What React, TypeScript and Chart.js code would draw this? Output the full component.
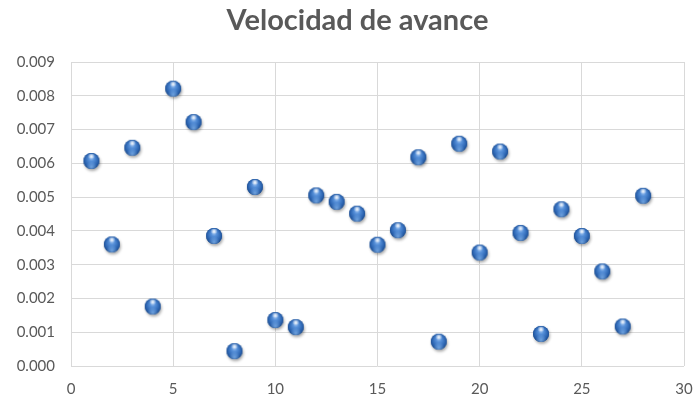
import React, { useEffect, useRef } from "react";
import { Chart, registerables } from "chart.js";

Chart.register(...registerables);

// Measurement index (x) and advance speed (y)
const samples: number[] = [
  1, 2, 3, 4, 5, 6, 7, 8, 9, 10, 11, 12, 13, 14, 15, 16, 17, 18, 19, 20, 21, 22, 23, 24, 25, 26, 27, 28,
];
const speeds: number[] = [
  0.00607, 0.0036, 0.00646, 0.00176, 0.00821, 0.00722, 0.00385, 0.00044, 0.0053, 0.00136,
  0.00115, 0.00505, 0.00486, 0.00451, 0.00359, 0.00402, 0.00618, 0.00072, 0.00658, 0.00336,
  0.00635, 0.00394, 0.00095, 0.00464, 0.00385, 0.0028, 0.00117, 0.00504,
];
const chartTitle = "Velocidad de avance";

const TEXT = "#595959";
const GRID = "#d9d9d9";
const FONT = "Lato, 'Open Sans', sans-serif";

// Glossy blue sphere used as the marker
function makeSphere(): HTMLCanvasElement {
  const size = 26;
  const c = document.createElement("canvas");
  c.width = size;
  c.height = size;
  const ctx = c.getContext("2d")!;
  const cx = size / 2;
  const cy = size / 2;
  const r = 8;

  // soft drop shadow
  ctx.save();
  ctx.shadowColor = "rgba(0,0,0,0.35)";
  ctx.shadowBlur = 3;
  ctx.shadowOffsetX = 1;
  ctx.shadowOffsetY = 2;
  ctx.fillStyle = "#2a5fa6";
  ctx.beginPath();
  ctx.arc(cx, cy, r, 0, Math.PI * 2);
  ctx.fill();
  ctx.restore();

  // body
  const body = ctx.createRadialGradient(cx, cy - r * 0.45, 0, cx, cy, r * 1.15);
  body.addColorStop(0, "#a9c9f2");
  body.addColorStop(0.3, "#5690d9");
  body.addColorStop(0.7, "#2c65b2");
  body.addColorStop(1, "#163f7a");
  ctx.fillStyle = body;
  ctx.beginPath();
  ctx.arc(cx, cy, r, 0, Math.PI * 2);
  ctx.fill();

  // reflected light at the bottom
  const glow = ctx.createRadialGradient(cx, cy + r * 0.75, 0, cx, cy + r * 0.75, r * 0.7);
  glow.addColorStop(0, "rgba(140,190,245,0.7)");
  glow.addColorStop(1, "rgba(140,190,245,0)");
  ctx.fillStyle = glow;
  ctx.beginPath();
  ctx.arc(cx, cy, r, 0, Math.PI * 2);
  ctx.fill();

  // specular highlight
  const spec = ctx.createRadialGradient(cx, cy - r * 0.6, 0, cx, cy - r * 0.6, r * 0.45);
  spec.addColorStop(0, "rgba(255,255,255,0.95)");
  spec.addColorStop(1, "rgba(255,255,255,0)");
  ctx.fillStyle = spec;
  ctx.beginPath();
  ctx.ellipse(cx, cy - r * 0.6, r * 0.5, r * 0.3, 0, 0, Math.PI * 2);
  ctx.fill();

  return c;
}

// Title drawn slightly left of the plot centre, above the plot area
const titlePlugin = {
  id: "offsetTitle",
  afterDraw(chart: any) {
    const { ctx, chartArea } = chart;
    ctx.save();
    ctx.fillStyle = TEXT;
    ctx.font = `bold 29px ${FONT}`;
    ctx.textAlign = "center";
    ctx.textBaseline = "alphabetic";
    ctx.fillText(chartTitle, (chartArea.left + chartArea.right) / 2 - 20, chartArea.top - 32);
    ctx.restore();
  },
};

export default function App() {
  const ref = useRef<HTMLCanvasElement | null>(null);

  useEffect(() => {
    if (!ref.current) return;
    const sphere = makeSphere();
    const chart = new Chart(ref.current, {
      type: "scatter",
      data: {
        datasets: [
          {
            data: samples.map((x, i) => ({ x, y: speeds[i] })),
            pointStyle: sphere as any,
            pointRadius: 8,
            pointHoverRadius: 8,
          },
        ],
      },
      options: {
        animation: false,
        responsive: true,
        maintainAspectRatio: false,
        layout: { padding: { top: 62, right: 0, bottom: 0, left: 0 } },
        plugins: {
          legend: { display: false },
          tooltip: { enabled: false },
          title: { display: false },
        },
        scales: {
          x: {
            type: "linear",
            min: 0,
            max: 30,
            ticks: {
              stepSize: 5,
              maxRotation: 0,
              color: TEXT,
              font: { family: FONT, size: 15 },
              padding: 14,
            },
            grid: { color: GRID, lineWidth: 1, drawTicks: false },
            border: { display: false },
            afterFit: (s: any) => {
              s.height = 32;
              s.paddingLeft = 0;
              s.paddingRight = 9;
            },
          },
          y: {
            type: "linear",
            min: 0,
            max: 0.009,
            ticks: {
              stepSize: 0.001,
              color: TEXT,
              font: { family: FONT, size: 15 },
              padding: 16,
              callback: (v: any) => Number(v).toFixed(3),
            },
            grid: { color: GRID, lineWidth: 1, drawTicks: false },
            border: { display: false },
            afterFit: (s: any) => {
              s.width = 71;
            },
          },
        },
      },
      plugins: [titlePlugin],
    });
    return () => chart.destroy();
  }, []);

  return (
    <div style={{ position: "fixed", left: 0, top: 0, width: 693, height: 398, background: "#fff" }}>
      <canvas ref={ref} />
    </div>
  );
}
